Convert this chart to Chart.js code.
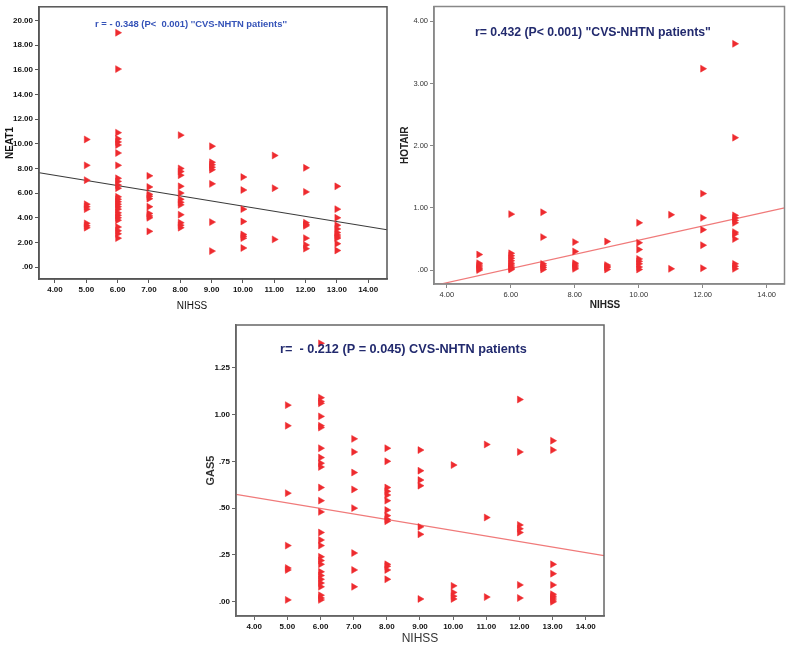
<!DOCTYPE html>
<html><head><meta charset="utf-8">
<script src="https://cdn.jsdelivr.net/npm/chart.js@4/dist/chart.umd.min.js"></script>
<style>
html,body{margin:0;padding:0;background:#fff;width:789px;height:646px;overflow:hidden;position:relative}
canvas{position:absolute}
</style></head><body>
<canvas id="c1" width="395" height="318" style="left:0;top:0"></canvas>
<canvas id="c2" width="394" height="314" style="left:395px;top:0"></canvas>
<canvas id="c3" width="420" height="331" style="left:200px;top:315px"></canvas>
<script>
// ---------- DATA ----------
const nihssLevels = [5, 6, 7, 8, 9, 10, 11, 12, 13];

// NEAT1 values grouped by NIHSS level (same order as nihssLevels)
const neat1Values = [
  [10.35, 8.25, 7.05, 5.1, 4.9, 4.7, 3.55, 3.35, 3.2],
  [19.0, 16.05, 10.9, 10.4, 10.15, 9.9, 9.25, 8.25, 7.2, 6.95, 6.65, 6.4, 5.7, 5.5, 5.3, 5.1, 4.9, 4.7, 4.4, 4.2, 4.0, 3.8, 3.25, 2.95, 2.7, 2.35],
  [7.4, 6.5, 5.9, 5.75, 5.55, 4.9, 4.35, 4.15, 4.0, 2.9],
  [10.7, 8.0, 7.75, 7.45, 6.55, 6.0, 5.5, 5.25, 5.05, 4.25, 3.6, 3.4, 3.2],
  [9.8, 8.5, 8.3, 8.1, 7.9, 6.75, 3.65, 1.3],
  [7.3, 6.25, 4.7, 3.7, 2.65, 2.5, 2.35, 1.55],
  [9.05, 6.4, 2.25],
  [8.05, 6.1, 3.6, 3.45, 3.35, 2.35, 1.8, 1.5],
  [6.55, 4.7, 4.0, 3.4, 3.1, 2.8, 2.6, 2.45, 2.35, 1.9, 1.35]
];

// HOTAIR values grouped by NIHSS level
const hotairValues = [
  [0.25, 0.11, 0.08, 0.05, 0.02, 0.0],
  [0.9, 0.27, 0.23, 0.19, 0.15, 0.11, 0.08, 0.05, 0.03, 0.01],
  [0.93, 0.53, 0.1, 0.07, 0.04, 0.01],
  [0.45, 0.3, 0.11, 0.08, 0.05, 0.02],
  [0.46, 0.08, 0.06, 0.04, 0.01],
  [0.76, 0.44, 0.33, 0.18, 0.14, 0.1, 0.05, 0.01],
  [0.89, 0.02],
  [3.24, 1.23, 0.84, 0.65, 0.4, 0.03],
  [3.64, 2.13, 0.88, 0.84, 0.8, 0.76, 0.61, 0.58, 0.5, 0.1, 0.06, 0.02]
];

// GAS5 values grouped by NIHSS level
const gas5Values = [
  [1.05, 0.94, 0.58, 0.30, 0.18, 0.17, 0.01],
  [1.38, 1.09, 1.07, 1.06, 0.99, 0.94, 0.93, 0.82, 0.77, 0.74, 0.72, 0.61, 0.54, 0.48, 0.37, 0.33, 0.30, 0.24, 0.22, 0.20, 0.16, 0.14, 0.12, 0.10, 0.08, 0.035, 0.02, 0.01],
  [0.87, 0.80, 0.69, 0.60, 0.50, 0.26, 0.17, 0.08],
  [0.82, 0.75, 0.61, 0.59, 0.57, 0.54, 0.49, 0.46, 0.44, 0.43, 0.20, 0.19, 0.17, 0.12],
  [0.81, 0.70, 0.65, 0.62, 0.40, 0.36, 0.015],
  [0.73, 0.085, 0.05, 0.03, 0.015],
  [0.84, 0.45, 0.025],
  [1.08, 0.80, 0.41, 0.39, 0.37, 0.09, 0.02],
  [0.86, 0.81, 0.20, 0.15, 0.09, 0.04, 0.03, 0.02, 0.01, 0.0]
];

// Fit lines (endpoints, data units)
const neat1FitX = [3.5, 14.6],   neat1FitY = [7.65, 3.03];
const hotairFitX = [3.6, 14.56], hotairFitY = [-0.249, 1.0];
const gas5FitX = [3.45, 14.55],  gas5FitY = [0.574, 0.246];

// Ticks
const xTicksA = [4, 5, 6, 7, 8, 9, 10, 11, 12, 13, 14];
const xTicksB = [4, 6, 8, 10, 12, 14];
const neat1Ticks = [0, 2, 4, 6, 8, 10, 12, 14, 16, 18, 20];
const hotairTicks = [0, 1, 2, 3, 4];
const gas5Ticks = [0, 0.25, 0.5, 0.75, 1.0, 1.25];

const labels = {
  neat1: "r = - 0.348 (P<  0.001) ''CVS-NHTN patients''",
  hotair: 'r= 0.432 (P< 0.001) "CVS-NHTN patients"',
  gas5: 'r=  - 0.212 (P = 0.045) CVS-NHTN patients'
};

// ---------- HELPERS ----------
const FONT = "'Liberation Sans', Arial, sans-serif";
const spssFmt = v => v.toFixed(2).replace(/^0\./, '.');
const toPoints = groups => groups.flatMap((g, i) => g.map(v => ({x: nihssLevels[i], y: v})));
const toLine = (xs, ys) => xs.map((x, i) => ({x, y: ys[i]}));

function makePanel(id, o) {
  const framePlugin = {
    id: 'frame',
    afterDatasetsDraw(chart) {
      const a = chart.chartArea, ctx = chart.ctx;
      ctx.save();
      ctx.strokeStyle = o.frameColor;
      ctx.lineWidth = 1.5;
      ctx.strokeRect(a.left, a.top, a.right - a.left, a.bottom - a.top);
      // annotation text
      ctx.font = `bold ${o.annoSize}px ${FONT}`;
      let w = ctx.measureText(o.anno).width;
      const size = o.annoSize * o.annoWidth / w;
      ctx.font = `bold ${size}px ${FONT}`;
      ctx.fillStyle = o.annoColor;
      ctx.textBaseline = 'middle';
      ctx.fillText(o.anno, o.annoX, o.annoY);
      // x-axis title (drawn here so its horizontal position can follow the reference)
      ctx.font = `${o.xTitleWeight} ${o.xTitleSize}px ${FONT}`;
      ctx.fillStyle = o.titleColor;
      ctx.textAlign = 'center';
      ctx.fillText('NIHSS', o.xTitleX != null ? o.xTitleX : (a.left + a.right) / 2, o.xTitleY);
      ctx.restore();
    }
  };
  new Chart(document.getElementById(id), {
    type: 'scatter',
    data: {
      datasets: [
        {
          data: toPoints(o.values),
          pointStyle: 'triangle', rotation: 90, pointRadius: 4, pointHoverRadius: 4,
          backgroundColor: '#ee2b2f', borderColor: '#ee2b2f', borderWidth: 0.5
        },
        {
          type: 'line', data: toLine(o.fitX, o.fitY),
          borderColor: o.lineColor, borderWidth: 1.2, pointRadius: 0, fill: false
        }
      ]
    },
    options: {
      responsive: false, animation: false, devicePixelRatio: 1,
      layout: {padding: o.padding},
      plugins: {legend: {display: false}, tooltip: {enabled: false}},
      scales: {
        x: {
          type: 'linear', min: o.xMin, max: o.xMax,
          afterBuildTicks: s => { s.ticks = o.xTicks.map(v => ({value: v})); },
          afterFit: s => { s.height = o.xAxisH; },
          ticks: {callback: v => spssFmt(v), color: o.tickColor, font: {family: FONT, size: o.tickSize, weight: o.tickWeight}, padding: 2, maxRotation: 0, autoSkip: false},
          grid: {display: true, drawOnChartArea: false, drawTicks: true, tickLength: 4, color: o.frameColor},
          border: {display: true, color: o.frameColor, width: 1.5},
          title: {display: false}
        },
        y: {
          type: 'linear', min: o.yMin, max: o.yMax,
          afterBuildTicks: s => { s.ticks = o.yTicks.map(v => ({value: v})); },
          afterFit: s => { s.width = o.yAxisW; },
          ticks: {callback: v => spssFmt(v), color: o.tickColor, font: {family: FONT, size: o.tickSize, weight: o.tickWeight}, padding: 2, autoSkip: false},
          grid: {display: true, drawOnChartArea: false, drawTicks: true, tickLength: 4, color: o.frameColor},
          border: {display: true, color: o.frameColor, width: 1.5},
          title: {display: true, text: o.yTitle, color: o.titleColor, font: {family: FONT, size: o.yTitleSize, weight: 'bold'}, padding: {top: o.yTitlePad, bottom: 0}}
        }
      }
    },
    plugins: [framePlugin]
  });
}

makePanel('c1', {
  values: neat1Values, fitX: neat1FitX, fitY: neat1FitY, lineColor: '#3a3a3a',
  xTicks: xTicksA, yTicks: neat1Ticks, xMin: 3.49, xMax: 14.6, yMin: -0.96, yMax: 21.1,
  padding: {left: 0, top: 2, right: 8, bottom: 0}, yAxisW: 39, xAxisH: 39,
  frameColor: '#555', tickColor: '#111', tickSize: 8, tickWeight: 'bold', titleColor: '#111',
  xTitleSize: 10, xTitleWeight: 'normal', xTitleX: 192, xTitleY: 306, yTitle: 'NEAT1', yTitleSize: 10, yTitlePad: 4,
  anno: labels.neat1, annoX: 95, annoY: 24, annoWidth: 192, annoSize: 10, annoColor: '#3553b8'
});

makePanel('c2', {
  values: hotairValues, fitX: hotairFitX, fitY: hotairFitY, lineColor: '#f07a7a',
  xTicks: xTicksB, yTicks: hotairTicks, xMin: 3.6, xMax: 14.56, yMin: -0.224, yMax: 4.24,
  padding: {left: 0, top: 5, right: 3, bottom: 0}, yAxisW: 39, xAxisH: 30,
  frameColor: '#888', tickColor: '#333', tickSize: 7.5, tickWeight: 'normal', titleColor: '#222',
  xTitleSize: 10, xTitleWeight: 'bold', xTitleX: 210, xTitleY: 305, yTitle: 'HOTAIR', yTitleSize: 10, yTitlePad: 4,
  anno: labels.hotair, annoX: 80, annoY: 33, annoWidth: 236, annoSize: 12, annoColor: '#222a6e'
});

makePanel('c3', {
  values: gas5Values, fitX: gas5FitX, fitY: gas5FitY, lineColor: '#f07a7a',
  xTicks: xTicksA, yTicks: gas5Ticks, xMin: 3.45, xMax: 14.55, yMin: -0.076, yMax: 1.478,
  padding: {left: 0, top: 10, right: 16, bottom: 0}, yAxisW: 36, xAxisH: 30,
  frameColor: '#666', tickColor: '#111', tickSize: 8, tickWeight: 'bold', titleColor: '#333',
  xTitleSize: 12, xTitleWeight: 'normal', xTitleY: 324, yTitle: 'GAS5', yTitleSize: 11, yTitlePad: 4,
  anno: labels.gas5, annoX: 80, annoY: 34, annoWidth: 247, annoSize: 14, annoColor: '#222a6e'
});
</script>
</body></html>
